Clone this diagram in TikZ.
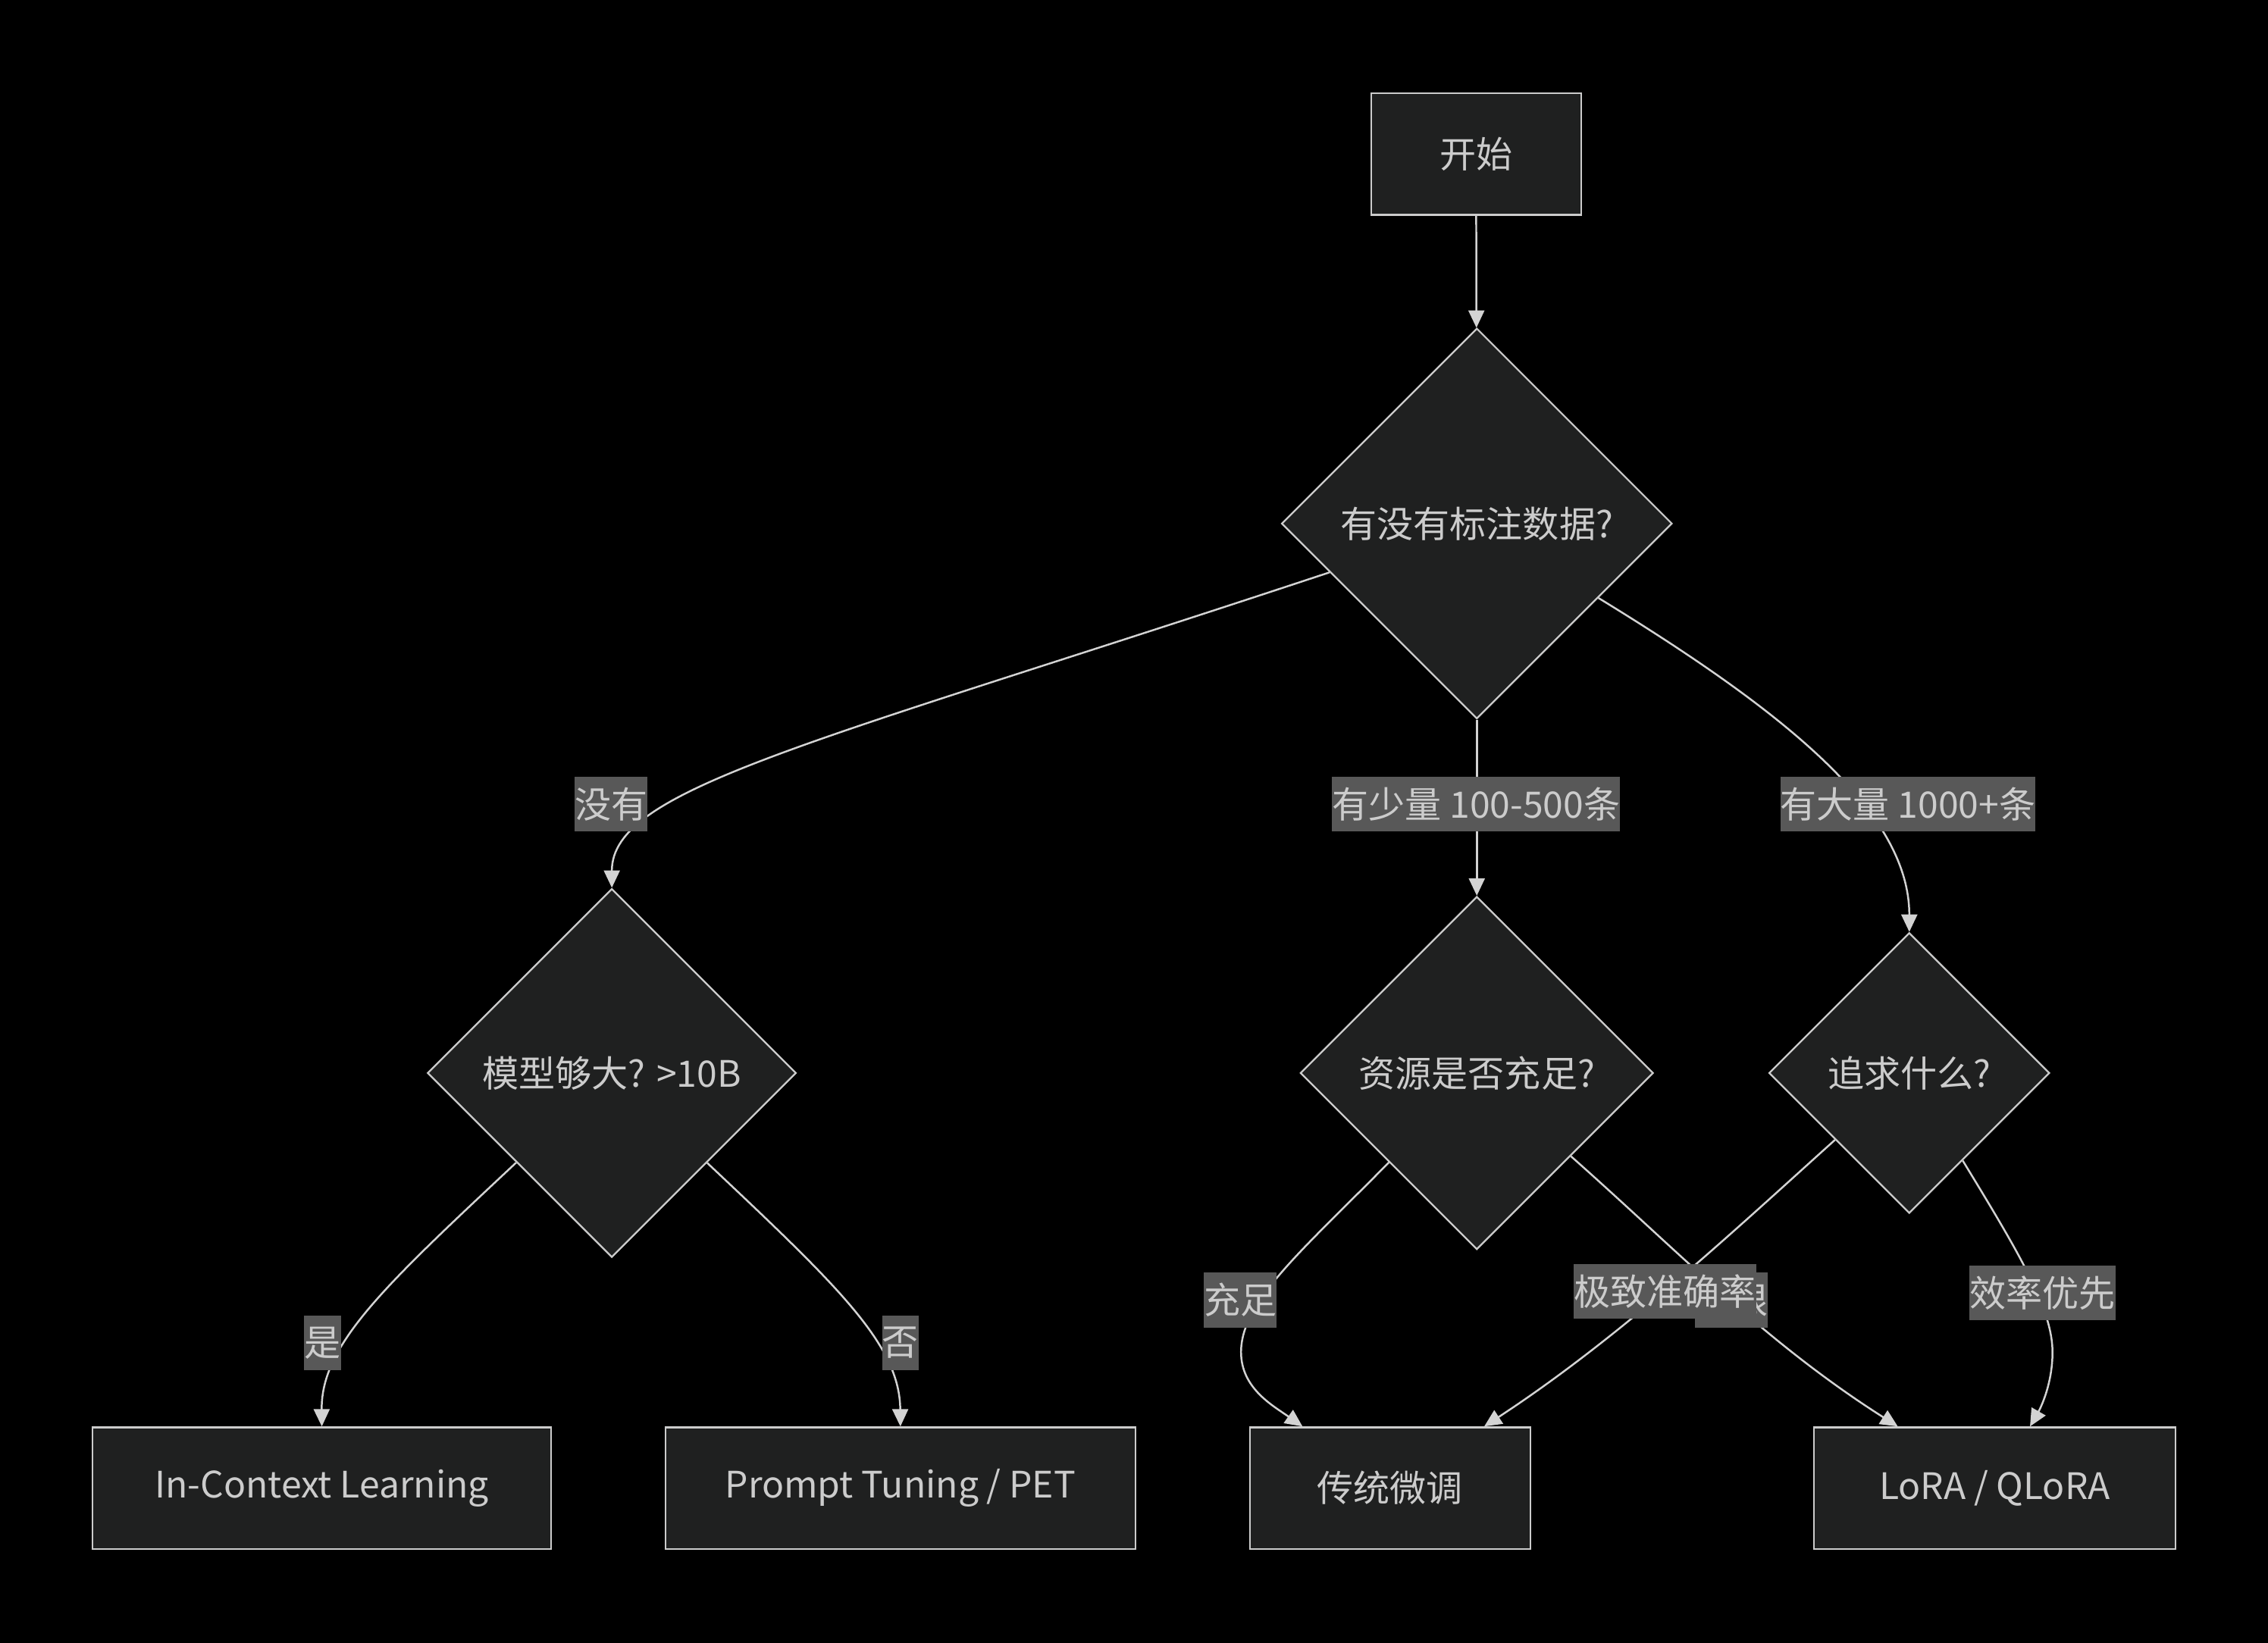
\documentclass[tikz,border=0pt]{standalone}
\usepackage{fontspec}
\setmainfont{Noto Sans CJK SC}
\usetikzlibrary{shapes.geometric,arrows.meta}
\definecolor{nodefill}{HTML}{1F2020}
\definecolor{nodeline}{HTML}{CCCCCC}
\definecolor{edgeline}{HTML}{D3D3D3}
\definecolor{tagfill}{HTML}{585858}
\definecolor{textgrey}{HTML}{CCCCCC}
\newcommand\myfontsize{\fontsize{25.2}{30}\selectfont}

\begin{document}
\begin{tikzpicture}[x=1pt,y=-1pt,
		box/.style={draw=nodeline,fill=nodefill,line width=1.2pt,text=textgrey,font=\myfontsize,minimum height=84pt,inner sep=0pt},
		choice/.style={diamond,aspect=1,draw=nodeline,fill=nodefill,line width=1.2pt,text=textgrey,font=\myfontsize,inner sep=0pt},
		edge/.style={draw=edgeline,line width=1.3pt,-{Triangle[length=12pt,width=11pt]}},
		tag/.style={fill=tagfill,text=textgrey,font=\myfontsize,inner xsep=0pt,inner ysep=0pt,minimum height=38pt}]
			\useasboundingbox (0,0) rectangle (1568,1135.65);
			\fill[black] (-3,-3) rectangle (1571,1139);
			\node[box,minimum width=145pt] (start) at (1020.5,106.5) {开始};
			\node[choice,minimum size=270pt] (q1) at (1021,362) {有没有标注数据?};
			\node[choice,minimum size=255pt] (q2) at (423,742) {模型够大? >10B};
			\node[choice,minimum size=244pt] (q3) at (1021,742) {资源是否充足?};
			\node[choice,minimum size=194pt] (q4) at (1320,742) {追求什么?};
			\node[box,minimum width=317pt] (icl) at (222.5,1029) {In-Context Learning};
			\node[box,minimum width=325pt] (pt) at (622.5,1029) {Prompt Tuning / PET};
			\node[box,minimum width=194pt] (ft) at (961,1029) {传统微调};
			\node[box,minimum width=250pt] (lora) at (1379,1029) {LoRA / QLoRA};
			\draw[edge] (start) -- (q1);
			\draw[edge] (q1) .. controls (560,515) and (423,545) .. (q2.north);
			\draw[edge] (q1) -- (q3);
			\draw[edge] (q1) .. controls (1230,490) and (1320,560) .. (q4.north);
			\draw[edge] (q2) .. controls (265,890) and (222,930) .. (icl.north);
			\draw[edge] (q2) .. controls (580,890) and (622,930) .. (pt.north);
			\draw[edge] (q3) .. controls (900,865) and (858,900) .. (858,935) .. controls (858,960) and (880,972) .. (ft);
			\draw[edge] (q3) .. controls (1160,865) and (1220,928) .. (lora);
			\draw[edge] (q4) .. controls (1200,850) and (1120,925) .. (ft);
			\draw[edge] (q4) .. controls (1395,865) and (1419,905) .. (1419,935) .. controls (1419,958) and (1410,975) .. (lora);
			\node[tag] (lno) at (422.5,556) {没有};
			\node[tag] (lfew) at (1020.5,556) {有少量 100-500条};
			\node[tag] (lmany) at (1319,556) {有大量 1000+条};
			\node[tag] (lyes) at (223,928.5) {是};
			\node[tag] (lnot) at (622.5,928.5) {否};
			\node[tag] (lenough) at (857.5,899) {充足};
			\node[tag] (llimit) at (1197,899) {有限};
			\node[tag] (lacc) at (1151,893) {极致准确率};
			\node[tag] (leff) at (1412,894) {效率优先};
		\end{tikzpicture}
\end{document}
